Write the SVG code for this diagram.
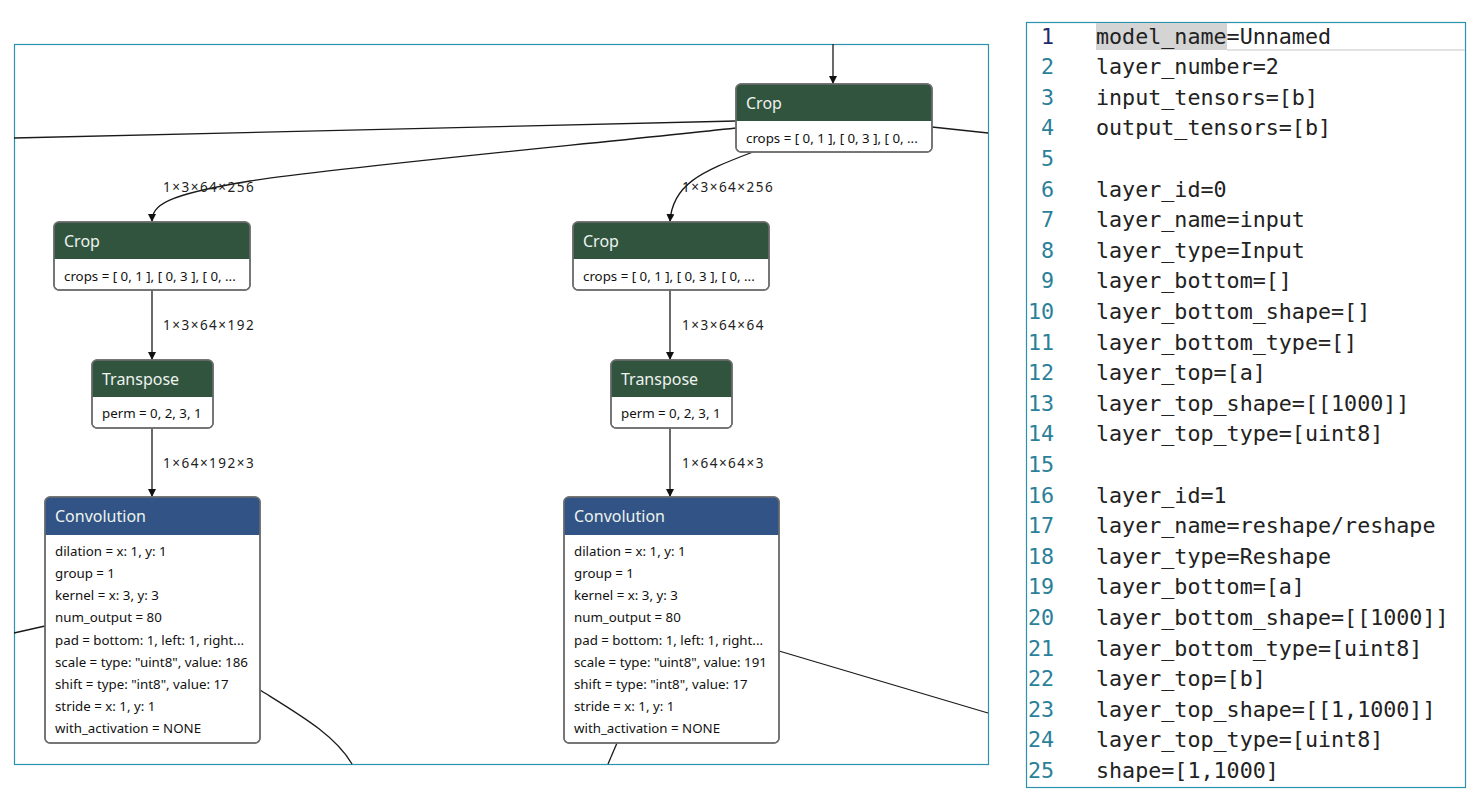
<svg xmlns="http://www.w3.org/2000/svg" width="1484" height="809" viewBox="0 0 1484 809">
<defs>
<marker id="arr" viewBox="0 0 10 10" refX="10" refY="5" markerWidth="8" markerHeight="8" markerUnits="userSpaceOnUse" orient="auto">
<path d="M0,0 L10,5 L0,10 z" fill="#111"/>
</marker>
<style>
.panel{fill:#fff;stroke:#2b93ae;stroke-width:1.2}
.edge{fill:none;stroke:#1a1a1a;stroke-width:1.3}
.body{fill:#fff;stroke:#6e6e6e;stroke-width:1.5}
.outline{fill:none;stroke:#6e6e6e;stroke-width:1.5}
.hg{fill:#31543f}
.hb{fill:#315385}
.ht{font-family:"Noto Sans","Open Sans",sans-serif;font-size:16px;fill:#eef3ee}
.bt{font-family:"Noto Sans","Open Sans",sans-serif;font-size:13.3px;fill:#111}
.lbl{font-family:"Noto Sans","Open Sans",sans-serif;font-size:13.5px;letter-spacing:1.5px;fill:#222}
.code{font-family:"DejaVu Sans Mono","Liberation Mono",monospace;font-size:21.7px;fill:#222}
.ln{font-family:"DejaVu Sans Mono","Liberation Mono",monospace;font-size:21.7px;fill:#2b7f98;text-anchor:end}
</style>
</defs>
<rect width="1484" height="809" fill="#fff"/>
<rect class="panel" x="14.5" y="44.5" width="974" height="720"/>
<rect class="panel" x="1026.5" y="22.5" width="439" height="765"/>

<g id="connectors">
<path class="edge" d="M833,44 L833,84" marker-end="url(#arr)"/>
<path class="edge" d="M736,121 C560,125 300,130 14,138"/>
<path class="edge" d="M736,128 C600,143 330,168 250,181 C165,195 152,205 152,222" marker-end="url(#arr)"/>
<path class="edge" d="M753,152 C700,172 672,185 670,222" marker-end="url(#arr)"/>
<path class="edge" d="M932,127 L988,133"/>
<path class="edge" d="M152,290 L152,360" marker-end="url(#arr)"/>
<path class="edge" d="M152,428 L152,497" marker-end="url(#arr)"/>
<path class="edge" d="M670,290 L670,360" marker-end="url(#arr)"/>
<path class="edge" d="M670,428 L670,497" marker-end="url(#arr)"/>
<path class="edge" d="M14,633 L45,626"/>
<path class="edge" d="M260,690 C300,715 335,735 352,764"/>
<path class="edge" d="M779,651 L988,713"/>
<path class="edge" d="M617,743 L608,764"/>
<text class="lbl" x="163" y="192">1×3×64×256</text>
<text class="lbl" x="682" y="192">1×3×64×256</text>
<text class="lbl" x="163" y="330">1×3×64×192</text>
<text class="lbl" x="682" y="330">1×3×64×64</text>
<text class="lbl" x="163" y="468">1×64×192×3</text>
<text class="lbl" x="682" y="468">1×64×64×3</text>
</g>

<g id="crop_top">
<rect class="body" x="736" y="84" width="196" height="68" rx="5"/>
<path class="hg" d="M741,84 H927 A5,5 0 0 1 932,89 V121 H736 V89 A5,5 0 0 1 741,84 z"/>
<rect class="outline" x="736" y="84" width="196" height="68" rx="5"/>
<text class="ht" x="746" y="109">Crop</text>
<text class="bt" x="746" y="143">crops = [ 0, 1 ], [ 0, 3 ], [ 0, ...</text>
</g>

<g id="crop_left">
<rect class="body" x="54" y="222" width="196" height="68" rx="5"/>
<path class="hg" d="M59,222 H245 A5,5 0 0 1 250,227 V259 H54 V227 A5,5 0 0 1 59,222 z"/>
<rect class="outline" x="54" y="222" width="196" height="68" rx="5"/>
<text class="ht" x="64" y="247">Crop</text>
<text class="bt" x="64" y="281">crops = [ 0, 1 ], [ 0, 3 ], [ 0, ...</text>
</g>

<g id="crop_right">
<rect class="body" x="573" y="222" width="196" height="68" rx="5"/>
<path class="hg" d="M578,222 H764 A5,5 0 0 1 769,227 V259 H573 V227 A5,5 0 0 1 578,222 z"/>
<rect class="outline" x="573" y="222" width="196" height="68" rx="5"/>
<text class="ht" x="583" y="247">Crop</text>
<text class="bt" x="583" y="281">crops = [ 0, 1 ], [ 0, 3 ], [ 0, ...</text>
</g>

<g id="transpose_left">
<rect class="body" x="92" y="360" width="121" height="68" rx="5"/>
<path class="hg" d="M97,360 H208 A5,5 0 0 1 213,365 V397 H92 V365 A5,5 0 0 1 97,360 z"/>
<rect class="outline" x="92" y="360" width="121" height="68" rx="5"/>
<text class="ht" x="102" y="385">Transpose</text>
<text class="bt" x="102" y="418">perm = 0, 2, 3, 1</text>
</g>

<g id="transpose_right">
<rect class="body" x="611" y="360" width="121" height="68" rx="5"/>
<path class="hg" d="M616,360 H727 A5,5 0 0 1 732,365 V397 H611 V365 A5,5 0 0 1 616,360 z"/>
<rect class="outline" x="611" y="360" width="121" height="68" rx="5"/>
<text class="ht" x="621" y="385">Transpose</text>
<text class="bt" x="621" y="418">perm = 0, 2, 3, 1</text>
</g>

<g id="conv_left">
<rect class="body" x="45" y="497" width="215" height="246" rx="5"/>
<path class="hb" d="M50,497 H255 A5,5 0 0 1 260,502 V535 H45 V502 A5,5 0 0 1 50,497 z"/>
<rect class="outline" x="45" y="497" width="215" height="246" rx="5"/>
<text class="ht" x="55" y="522">Convolution</text>
<text class="bt" x="55" y="556">dilation = x: 1, y: 1</text>
<text class="bt" x="55" y="578">group = 1</text>
<text class="bt" x="55" y="600">kernel = x: 3, y: 3</text>
<text class="bt" x="55" y="622">num_output = 80</text>
<text class="bt" x="55" y="645">pad = bottom: 1, left: 1, right...</text>
<text class="bt" x="55" y="667">scale = type: "uint8", value: 186</text>
<text class="bt" x="55" y="689">shift = type: "int8", value: 17</text>
<text class="bt" x="55" y="711">stride = x: 1, y: 1</text>
<text class="bt" x="55" y="733">with_activation = NONE</text>
</g>

<g id="conv_right">
<rect class="body" x="564" y="497" width="215" height="246" rx="5"/>
<path class="hb" d="M569,497 H774 A5,5 0 0 1 779,502 V535 H564 V502 A5,5 0 0 1 569,497 z"/>
<rect class="outline" x="564" y="497" width="215" height="246" rx="5"/>
<text class="ht" x="574" y="522">Convolution</text>
<text class="bt" x="574" y="556">dilation = x: 1, y: 1</text>
<text class="bt" x="574" y="578">group = 1</text>
<text class="bt" x="574" y="600">kernel = x: 3, y: 3</text>
<text class="bt" x="574" y="622">num_output = 80</text>
<text class="bt" x="574" y="645">pad = bottom: 1, left: 1, right...</text>
<text class="bt" x="574" y="667">scale = type: "uint8", value: 191</text>
<text class="bt" x="574" y="689">shift = type: "int8", value: 17</text>
<text class="bt" x="574" y="711">stride = x: 1, y: 1</text>
<text class="bt" x="574" y="733">with_activation = NONE</text>
</g>

<g id="code_panel">
<rect x="1096" y="23" width="131" height="27" fill="#d4d4d4"/>
<line x1="1227" y1="50" x2="1465" y2="50" stroke="#e2e2e2" stroke-width="2"/>
<text class="ln" x="1054" y="43.5" style="fill:#1e2a6b">1</text>
<text class="ln" x="1054" y="74.1">2</text>
<text class="ln" x="1054" y="104.7">3</text>
<text class="ln" x="1054" y="135.3">4</text>
<text class="ln" x="1054" y="165.9">5</text>
<text class="ln" x="1054" y="196.5">6</text>
<text class="ln" x="1054" y="227.1">7</text>
<text class="ln" x="1054" y="257.7">8</text>
<text class="ln" x="1054" y="288.3">9</text>
<text class="ln" x="1054" y="318.9">10</text>
<text class="ln" x="1054" y="349.5">11</text>
<text class="ln" x="1054" y="380.1">12</text>
<text class="ln" x="1054" y="410.7">13</text>
<text class="ln" x="1054" y="441.3">14</text>
<text class="ln" x="1054" y="471.9">15</text>
<text class="ln" x="1054" y="502.5">16</text>
<text class="ln" x="1054" y="533.1">17</text>
<text class="ln" x="1054" y="563.7">18</text>
<text class="ln" x="1054" y="594.3">19</text>
<text class="ln" x="1054" y="624.9">20</text>
<text class="ln" x="1054" y="655.5">21</text>
<text class="ln" x="1054" y="686.1">22</text>
<text class="ln" x="1054" y="716.7">23</text>
<text class="ln" x="1054" y="747.3">24</text>
<text class="ln" x="1054" y="777.9">25</text>
<text class="code" x="1096" y="43.5">model_name=Unnamed</text>
<text class="code" x="1096" y="74.1">layer_number=2</text>
<text class="code" x="1096" y="104.7">input_tensors=[b]</text>
<text class="code" x="1096" y="135.3">output_tensors=[b]</text>
<text class="code" x="1096" y="196.5">layer_id=0</text>
<text class="code" x="1096" y="227.1">layer_name=input</text>
<text class="code" x="1096" y="257.7">layer_type=Input</text>
<text class="code" x="1096" y="288.3">layer_bottom=[]</text>
<text class="code" x="1096" y="318.9">layer_bottom_shape=[]</text>
<text class="code" x="1096" y="349.5">layer_bottom_type=[]</text>
<text class="code" x="1096" y="380.1">layer_top=[a]</text>
<text class="code" x="1096" y="410.7">layer_top_shape=[[1000]]</text>
<text class="code" x="1096" y="441.3">layer_top_type=[uint8]</text>
<text class="code" x="1096" y="502.5">layer_id=1</text>
<text class="code" x="1096" y="533.1">layer_name=reshape/reshape</text>
<text class="code" x="1096" y="563.7">layer_type=Reshape</text>
<text class="code" x="1096" y="594.3">layer_bottom=[a]</text>
<text class="code" x="1096" y="624.9">layer_bottom_shape=[[1000]]</text>
<text class="code" x="1096" y="655.5">layer_bottom_type=[uint8]</text>
<text class="code" x="1096" y="686.1">layer_top=[b]</text>
<text class="code" x="1096" y="716.7">layer_top_shape=[[1,1000]]</text>
<text class="code" x="1096" y="747.3">layer_top_type=[uint8]</text>
<text class="code" x="1096" y="777.9">shape=[1,1000]</text>
</g>
</svg>
